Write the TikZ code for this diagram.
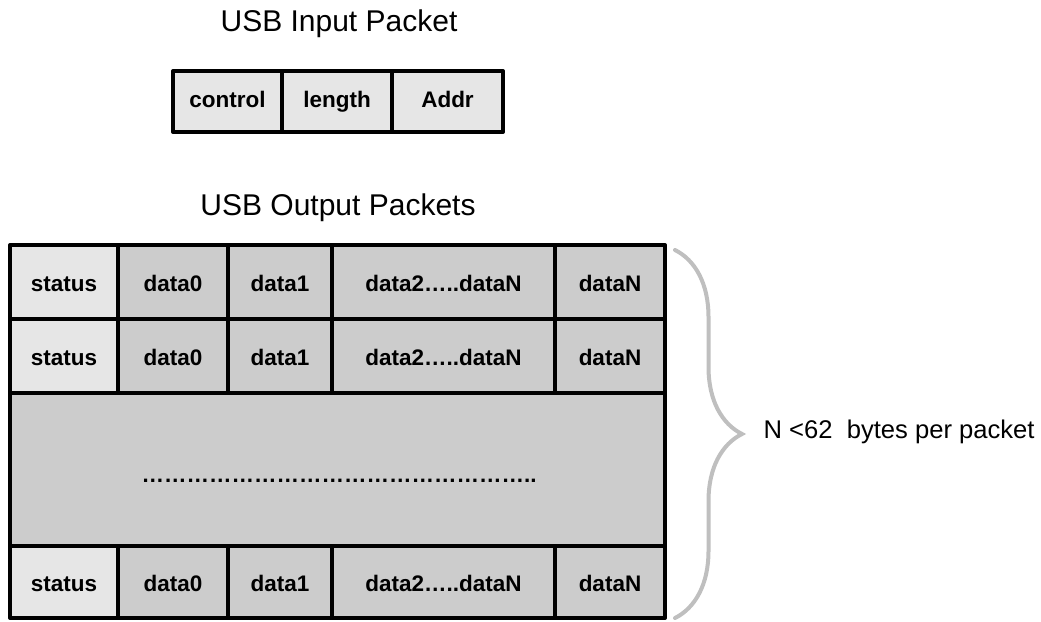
\documentclass[tikz,border=0pt]{standalone}
\usepackage{fontspec}
\setmainfont{Liberation Sans}
\usetikzlibrary{decorations.pathreplacing}
\definecolor{celllight}{HTML}{E6E6E6}
\definecolor{celldark}{HTML}{CCCCCC}
\definecolor{bracegray}{HTML}{BFBFBF}
\tikzset{
	cell/.style={draw, line width=4pt, line join=round, inner sep=0pt,
		font=\fontsize{22.5}{27}\selectfont\bfseries},
	lightcell/.style={cell, fill=celllight},
	darkcell/.style={cell, fill=celldark},
	title/.style={font=\fontsize{30}{36}\selectfont},
	inrow/.style={minimum height=61pt, text height=16pt, text depth=4.5pt},
	rowa/.style={minimum height=74pt, text height=22pt, text depth=2.6pt},
	rowb/.style={minimum height=72pt, text height=22pt, text depth=2.6pt},
}

\begin{document}
\begin{tikzpicture}[x=1pt,y=-1pt]
\useasboundingbox (0,0) rectangle (1041,621);
% input packet
\node[title] (intitle) at (339,24) {USB Input Packet};
\node[lightcell, inrow, minimum width=109pt] (control) at (227.5,101.5) {control};
\node[lightcell, inrow, minimum width=110pt] (length) at (337,101.5) {length};
\node[lightcell, inrow, minimum width=111pt] (addr) at (447.5,101.5) {Addr};

% output packets
\node[title] (outtitle) at (338,208) {USB Output Packets};
\node[lightcell, rowa, minimum width=108pt] (status1) at (64,282) {status};
\node[darkcell, rowa, minimum width=110pt] (datazero1) at (173,282) {data0};
\node[darkcell, rowa, minimum width=104pt] (dataone1) at (280,282) {data1};
\node[darkcell, rowa, minimum width=223pt] (datarest1) at (443.5,282) {data2…..dataN};
\node[darkcell, rowa, minimum width=110pt] (datalast1) at (610,282) {dataN};

\node[lightcell, rowa, minimum width=108pt] (status2) at (64,356) {status};
\node[darkcell, rowa, minimum width=110pt] (datazero2) at (173,356) {data0};
\node[darkcell, rowa, minimum width=104pt] (dataone2) at (280,356) {data1};
\node[darkcell, rowa, minimum width=223pt] (datarest2) at (443.5,356) {data2…..dataN};
\node[darkcell, rowa, minimum width=110pt] (datalast2) at (610,356) {dataN};

\node[darkcell, minimum width=655pt, minimum height=153pt] (middle) at (337.5,469.5) {};
\node[font=\fontsize{22.5}{27}\selectfont\bfseries] (dots) at (339,481) {……………………………………………..};

\node[lightcell, rowb, minimum width=108pt] (status3) at (64,582) {status};
\node[darkcell, rowb, minimum width=110pt] (datazero3) at (173,582) {data0};
\node[darkcell, rowb, minimum width=104pt] (dataone3) at (280,582) {data1};
\node[darkcell, rowb, minimum width=223pt] (datarest3) at (443.5,582) {data2…..dataN};
\node[darkcell, rowb, minimum width=110pt] (datalast3) at (610,582) {dataN};

% brace and size note
\coordinate (bracetop) at (675,250);
\coordinate (bracebot) at (675,618);
\draw[bracegray, line width=4pt, line cap=round, decorate, decoration={brace, amplitude=67pt}] (bracetop) -- (bracebot);
\node[anchor=west, font=\fontsize{25.6}{30}\selectfont] (limit) at (760,432) {N <62\ \ bytes per packet};
\end{tikzpicture}
\end{document}
